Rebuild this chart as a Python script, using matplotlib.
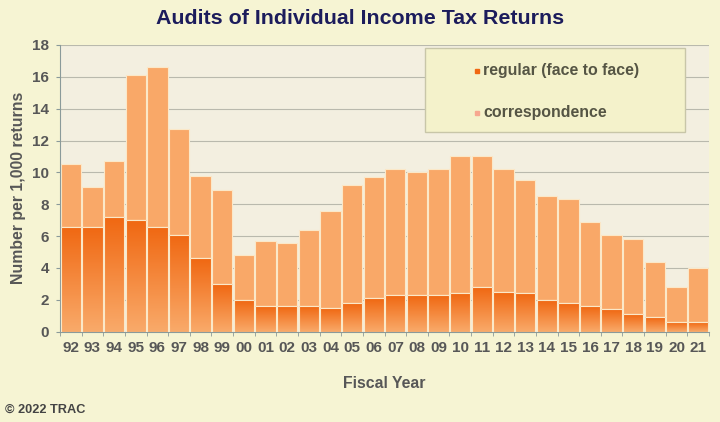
import numpy as np
import matplotlib
matplotlib.use("Agg")
import matplotlib.pyplot as plt
from matplotlib.patches import Rectangle
from matplotlib.colors import LinearSegmentedColormap

plt.rcParams['font.family'] = ['Liberation Sans', 'DejaVu Sans']

# fiscal years and audit rates (per 1,000 returns)
years = ["92", "93", "94", "95", "96", "97", "98", "99", "00", "01",
         "02", "03", "04", "05", "06", "07", "08", "09", "10", "11",
         "12", "13", "14", "15", "16", "17", "18", "19", "20", "21"]
total = [10.5, 9.1, 10.7, 16.1, 16.6, 12.7, 9.8, 8.9, 4.8, 5.7,
         5.6, 6.4, 7.6, 9.2, 9.7, 10.2, 10.0, 10.2, 11.0, 11.0,
         10.2, 9.5, 8.5, 8.3, 6.9, 6.1, 5.8, 4.4, 2.8, 4.0]
regular = [6.6, 6.6, 7.2, 7.0, 6.6, 6.1, 4.6, 3.0, 2.0, 1.6,
           1.6, 1.6, 1.5, 1.8, 2.1, 2.3, 2.3, 2.3, 2.4, 2.8,
           2.5, 2.4, 2.0, 1.8, 1.6, 1.4, 1.1, 0.9, 0.6, 0.6]
correspondence = [t - r for t, r in zip(total, regular)]

fig_bg = "#f6f4d3"
plot_bg = "#f3efe0"
corr_color = "#f9a868"
reg_dark = "#f06812"
reg_light = "#f9aa6a"
txt = "#575757"

fig = plt.figure(figsize=(7.2, 4.22), dpi=100, facecolor=fig_bg)
ax = fig.add_axes([60/720, 90.3/422, 649/720, 286.7/422])
ax.set_facecolor(plot_bg)

x = np.arange(len(years))
w = 0.94
ax.bar(x, correspondence, w, bottom=regular, color=corr_color,
       edgecolor="#fbe8c8", linewidth=0.8, zorder=2)
reg_bars = ax.bar(x, regular, w, color=reg_dark, edgecolor="#fbe8c8",
                  linewidth=0.8, zorder=2)

# gradient fill for the regular bars (dark at top, light at bottom)
cmap = LinearSegmentedColormap.from_list("reg", [reg_light, reg_dark])
grad = np.linspace(0, 1, 100).reshape(-1, 1)
for b in reg_bars:
    bx, by = b.get_x(), b.get_y()
    bw, bh = b.get_width(), b.get_height()
    im = ax.imshow(grad, cmap=cmap, aspect="auto", origin="lower",
                   extent=[bx, bx + bw, by, by + bh], zorder=2.5)
    im.set_clip_path(b)
    edge = Rectangle((bx, by), bw, bh, fill=False, edgecolor="#fbe8c8",
                     linewidth=0.8, zorder=2.6)
    ax.add_patch(edge)

ax.set_xlim(-0.5, len(years) - 0.5)
ax.set_ylim(0, 18)
ax.set_yticks(range(0, 19, 2))
ax.set_xticks(x)
ax.set_xticklabels(years)
ax.set_xticks(np.arange(-0.5, len(years), 1), minor=True)
ax.tick_params(axis="x", which="major", length=0, pad=7,
               labelsize=11, labelcolor=txt)
ax.tick_params(axis="x", which="minor", length=3, color="#8a9a9a")
ax.tick_params(axis="y", length=3, color="#8a9a9a", labelsize=11,
               labelcolor=txt, pad=5)
for lab in ax.get_xticklabels() + ax.get_yticklabels():
    lab.set_fontweight("bold")

ax.grid(axis="y", color="#b9b9ad", linewidth=0.8, zorder=1)
for s in ["top", "right"]:
    ax.spines[s].set_visible(False)
ax.spines["left"].set_color("#8a9a9a")
ax.spines["bottom"].set_color("#8a9a9a")

ax.set_ylabel("Number per 1,000 returns", fontsize=11.4, fontweight="bold",
              color=txt, labelpad=4)
ax.set_xlabel("Fiscal Year", fontsize=11.4, fontweight="bold",
              color=txt, labelpad=15)

fig.text(0.5, 1 - 18/422, "Audits of Individual Income Tax Returns",
         ha="center", va="center", fontsize=15.4, fontweight="bold",
         color="#1c1c5c")
fig.text(5/720, 1 - 410/422, "\u00a9 2022 TRAC", ha="left", va="center",
         fontsize=9.2, fontweight="bold", color="#444444")

# legend box
lx0, lx1 = (425 - 60) / 649, (685 - 60) / 649
ly0, ly1 = (331.7 - 132) / 286.7, (331.7 - 48) / 286.7
ax.add_patch(Rectangle((lx0, ly0), lx1 - lx0, ly1 - ly0,
                       transform=ax.transAxes, facecolor="#f4f2cb",
                       edgecolor="#c8c6a8", linewidth=1.0, zorder=5))
leg_items = [("regular (face to face)", reg_dark, 71),
             ("correspondence", "#f7a890", 113)]
for label, col, py in leg_items:
    yy = (331.7 - py) / 286.7
    ax.plot([(477 - 60) / 649], [yy], "s", color=col, markersize=3.5,
            transform=ax.transAxes, zorder=6)
    ax.text((483 - 60) / 649, yy, label, transform=ax.transAxes,
            ha="left", va="center", fontsize=11.4, fontweight="bold",
            color="#555544", zorder=6)

fig.savefig("out.png", dpi=100, facecolor=fig_bg)
